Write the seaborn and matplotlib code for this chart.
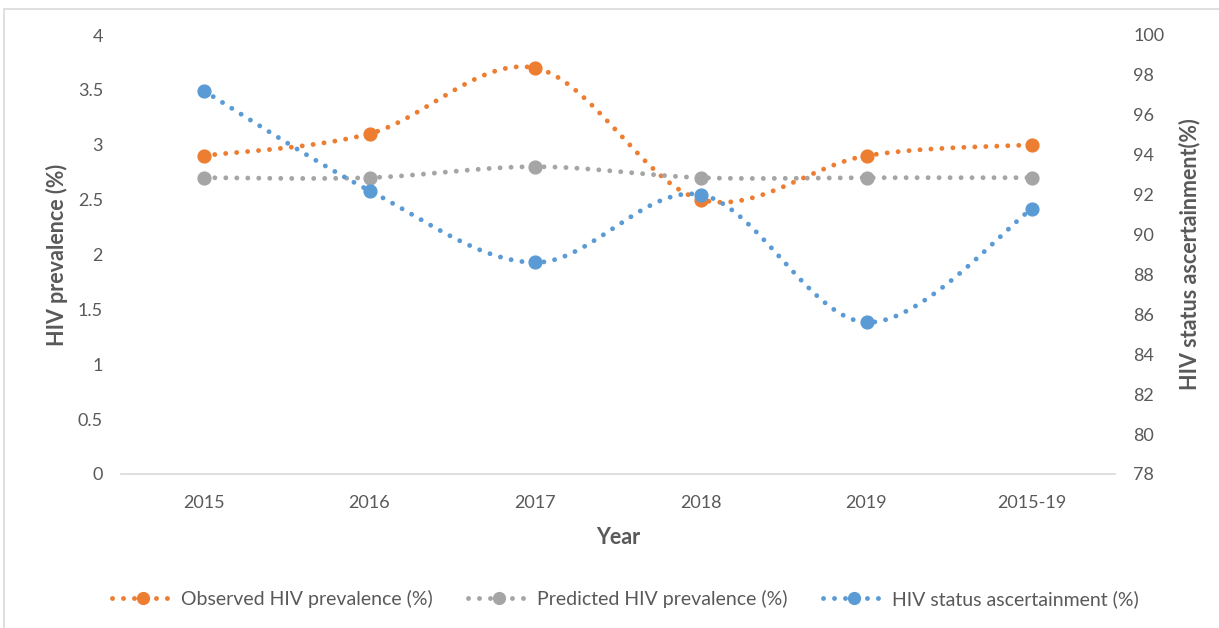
import numpy as np
import matplotlib
matplotlib.use("Agg")
import matplotlib.pyplot as plt
from matplotlib.lines import Line2D
from matplotlib.patches import Rectangle
from matplotlib.ticker import FuncFormatter, MultipleLocator
import seaborn as sns

# ---- data ----
categories = ["2015", "2016", "2017", "2018", "2019", "2015-19"]
observed = [2.9, 3.1, 3.7, 2.5, 2.9, 3.0]
predicted = [2.7, 2.7, 2.8, 2.7, 2.7, 2.7]
ascertainment = [97.2, 92.2, 88.6, 92.0, 85.6, 91.3]
series_names = ["Observed HIV prevalence (%)", "Predicted HIV prevalence (%)",
                "HIV status ascertainment (%)"]
colors = ["#ED7D31", "#A5A5A5", "#5B9BD5"]

sns.set_theme(style="white")
plt.rcParams['font.family'] = ['Lato', 'DejaVu Sans']

TXT = "#595959"
DOT = (0, (0.01, 2.25))


def smooth(xv, yv, n=30):
    """Excel-like smoothed curve (cubic Bezier with Catmull-Rom control points)."""
    P = np.column_stack([xv, yv]).astype(float)
    m = len(P)
    out = []
    for i in range(m - 1):
        p0 = P[i - 1] if i > 0 else P[i]
        p1 = P[i]
        p2 = P[i + 1]
        p3 = P[i + 2] if i + 2 < m else P[i + 1]
        c1 = p1 + (p2 - p0) / 6.0
        c2 = p2 - (p3 - p1) / 6.0
        t = np.linspace(0, 1, n, endpoint=(i == m - 2))[:, None]
        seg = ((1 - t) ** 3) * p1 + 3 * ((1 - t) ** 2) * t * c1 + 3 * (1 - t) * t ** 2 * c2 + t ** 3 * p2
        out.append(seg)
    out = np.vstack(out)
    return out[:, 0], out[:, 1]


fig = plt.figure(figsize=(12.19, 6.28), dpi=100)
ax = fig.add_axes([121 / 1219, 1 - 474 / 628, (1115 - 121) / 1219, (474 - 35) / 628])
ax2 = ax.twinx()

xpos = np.arange(len(categories))

for axis, vals, col in [(ax, observed, colors[0]), (ax, predicted, colors[1]),
                        (ax2, ascertainment, colors[2])]:
    sx, sy = smooth(xpos, vals)
    sns.lineplot(x=sx, y=sy, ax=axis, color=col, linewidth=3.5, linestyle=DOT,
                 dash_capstyle="round", sort=False, estimator=None)
    sns.scatterplot(x=xpos, y=vals, ax=axis, color=col, s=85, marker="o",
                    edgecolor=col, linewidth=1, zorder=5)

ax.set_xlim(-0.5, len(categories) - 0.5)
ax.set_ylim(0, 4)
ax2.set_ylim(78, 100)
ax.set_xticks(xpos)
ax.set_xticklabels(categories)
ax.yaxis.set_major_locator(MultipleLocator(0.5))
ax.yaxis.set_major_formatter(FuncFormatter(lambda v, p: f"{v:g}"))
ax2.yaxis.set_major_locator(MultipleLocator(2))
ax2.yaxis.set_major_formatter(FuncFormatter(lambda v, p: f"{v:g}"))

for a in (ax, ax2):
    for s in a.spines.values():
        s.set_visible(False)
    a.grid(False)
ax.spines["bottom"].set_visible(True)
ax.spines["bottom"].set_color("#D9D9D9")
ax.spines["bottom"].set_linewidth(1.2)

ax.tick_params(axis="x", length=0, pad=15, labelsize=13, labelcolor=TXT)
ax.tick_params(axis="y", length=0, pad=13, labelsize=13, labelcolor=TXT)
ax2.tick_params(axis="y", length=0, pad=13, labelsize=13, labelcolor=TXT)

ax.set_xlabel("Year", fontsize=15.5, fontweight="bold", color=TXT)
ax.set_ylabel("HIV prevalence (%)", fontsize=15.5, fontweight="bold", color=TXT)
ax2.set_ylabel("HIV status ascertainment(%)", fontsize=15.5, fontweight="bold", color=TXT)
ax.xaxis.set_label_coords(0.5, (474 - 537) / 439)
ax.yaxis.set_label_coords((57 - 121) / 994, 0.5)
ax2.yaxis.set_label_coords((1190 - 121) / 994, 0.5)
ax.xaxis.label.set_va("center")
ax.yaxis.label.set_va("center")
ax2.yaxis.label.set_va("center")

handles = [Line2D([0], [0], color=c, linewidth=3.5, linestyle=DOT, dash_capstyle="round",
                  marker="o", markersize=8.5, markerfacecolor=c, markeredgecolor=c)
           for c in colors]
fig.legend(handles, series_names, loc="center", bbox_to_anchor=(0.513, 1 - 599 / 628),
           ncol=3, frameon=False, fontsize=14, labelcolor=TXT, handlelength=3.2,
           handletextpad=0.35, columnspacing=1.8, numpoints=1)

fig.patches.append(Rectangle((4 / 1219, -0.05), 1.2, 1 - 9 / 628 + 0.05,
                             transform=fig.transFigure, fill=False,
                             edgecolor="#D9D9D9", linewidth=1.2))

fig.savefig("out.png", dpi=100, facecolor="white")
